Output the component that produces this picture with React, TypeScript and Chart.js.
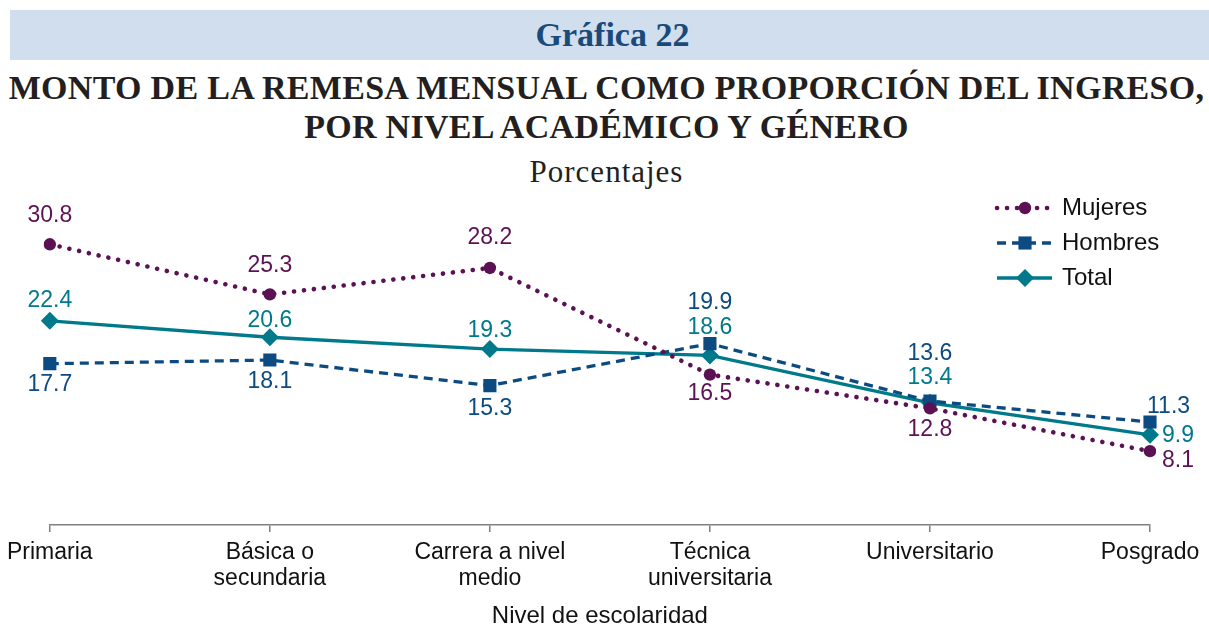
import React, { useEffect, useRef } from "react";
import { Chart, registerables } from "chart.js";

Chart.register(...registerables);

const categories: (string | string[])[] = [
  "Primaria",
  ["Básica o", "secundaria"],
  ["Carrera a nivel", "medio"],
  ["Técnica", "universitaria"],
  "Universitario",
  "Posgrado",
];
const mujeres = [30.8, 25.3, 28.2, 16.5, 12.8, 8.1];
const hombres = [17.7, 18.1, 15.3, 19.9, 13.6, 11.3];
const total = [22.4, 20.6, 19.3, 18.6, 13.4, 9.9];
const seriesNames = ["Mujeres", "Hombres", "Total"];

const COL_M = "#5c1154";
const COL_H = "#0c4a82";
const COL_T = "#00798b";

// label offsets per dataset / point: [dx, dy, align]
const labelPos: [number, number, CanvasTextAlign][][] = [
  [[0, -29, "center"], [0, -29, "center"], [0, -30, "center"], [0, 19, "center"], [0, 21, "center"], [12, 9, "left"]],
  [[0, 21, "center"], [0, 22, "center"], [0, 23, "center"], [0, -41, "center"], [0, -47, "center"], [-3, -15, "left"]],
  [[0, -20, "center"], [0, -17, "center"], [0, -18, "center"], [0, -28, "center"], [0, -25, "center"], [12, 1, "left"]],
];

const SANS = "'Liberation Sans', Arial, sans-serif";

const labelsPlugin = {
  id: "valueLabels",
  afterDatasetsDraw(chart: any) {
    const ctx = chart.ctx;
    ctx.save();
    ctx.font = `23px ${SANS}`;
    ctx.textBaseline = "middle";
    chart.data.datasets.forEach((ds: any, di: number) => {
      const meta = chart.getDatasetMeta(di);
      meta.data.forEach((pt: any, i: number) => {
        const [dx, dy, align] = labelPos[di][i];
        ctx.fillStyle = ds.borderColor;
        ctx.textAlign = align;
        ctx.fillText(ds.data[i].toFixed(1), pt.x + dx, pt.y + dy);
      });
    });
    ctx.restore();
  },
};

const legendPlugin = {
  id: "customLegend",
  afterDraw(chart: any) {
    const ctx = chart.ctx;
    const rows = [208, 243, 278];
    const x0 = 997, x1 = 1052, xm = 1025;
    chart.data.datasets.forEach((ds: any, di: number) => {
      const y = rows[di];
      ctx.save();
      ctx.strokeStyle = ds.borderColor;
      ctx.lineWidth = ds.borderWidth;
      ctx.lineCap = ds.borderCapStyle || "butt";
      ctx.setLineDash(ds.borderDash || []);
      ctx.beginPath();
      ctx.moveTo(x0, y);
      ctx.lineTo(x1, y);
      ctx.stroke();
      ctx.setLineDash([]);
      ctx.fillStyle = ds.borderColor;
      ctx.beginPath();
      if (ds.pointStyle === "circle") {
        ctx.arc(xm, y, ds.pointRadius, 0, Math.PI * 2);
      } else if (ds.pointStyle === "rect") {
        const s = ds.pointRadius * Math.SQRT1_2;
        ctx.rect(xm - s, y - s, 2 * s, 2 * s);
      } else {
        const r = ds.pointRadius;
        ctx.moveTo(xm, y - r);
        ctx.lineTo(xm + r, y);
        ctx.lineTo(xm, y + r);
        ctx.lineTo(xm - r, y);
        ctx.closePath();
      }
      ctx.fill();
      ctx.fillStyle = "#111";
      ctx.font = `24px ${SANS}`;
      ctx.textBaseline = "middle";
      ctx.textAlign = "left";
      ctx.fillText(seriesNames[di], 1062, y);
      ctx.restore();
    });
  },
};

function ChartCanvas() {
  const ref = useRef<HTMLCanvasElement | null>(null);
  useEffect(() => {
    if (!ref.current) return;
    const chart = new Chart(ref.current, {
      type: "line",
      data: {
        labels: categories as any,
        datasets: [
          {
            label: seriesNames[0],
            data: mujeres,
            borderColor: COL_M,
            backgroundColor: COL_M,
            borderWidth: 4.6,
            borderDash: [0.1, 9.9],
            borderCapStyle: "round",
            pointStyle: "circle",
            pointRadius: 6.2,
            pointBorderWidth: 0,
            tension: 0,
          },
          {
            label: seriesNames[1],
            data: hombres,
            borderColor: COL_H,
            backgroundColor: COL_H,
            borderWidth: 3.3,
            borderDash: [9, 6],
            pointStyle: "rect",
            pointRadius: 9.3,
            pointBorderWidth: 0,
            tension: 0,
          },
          {
            label: seriesNames[2],
            data: total,
            borderColor: COL_T,
            backgroundColor: COL_T,
            borderWidth: 3.3,
            pointStyle: "rectRot",
            pointRadius: 9,
            pointBorderWidth: 0,
            tension: 0,
          },
        ],
      },
      options: {
        responsive: false,
        animation: false,
        layout: { padding: { left: 46, right: 59, top: 206, bottom: 0 } },
        plugins: { legend: { display: false }, tooltip: { enabled: false }, title: { display: false } },
        scales: {
          y: { display: false, min: 0, max: 35 },
          x: {
            offset: false,
            afterFit: (scale: any) => {
              scale.height = 106;
            },
            grid: {
              display: true,
              drawOnChartArea: false,
              drawTicks: true,
              tickLength: 7,
              color: "#808080",
              lineWidth: 1.5,
            },
            border: { display: true, color: "#808080", width: 1.5 },
            ticks: {
              autoSkip: false,
              maxRotation: 0,
              minRotation: 0,
              padding: 7,
              color: "#111",
              font: { family: SANS, size: 23, lineHeight: 1.15 },
            },
            title: {
              display: true,
              text: "Nivel de escolaridad",
              color: "#111",
              padding: { top: 0, bottom: 0 },
              font: { family: SANS, size: 24, lineHeight: 1.2 },
            },
          },
        },
      },
      plugins: [labelsPlugin, legendPlugin],
    } as any);
    return () => chart.destroy();
  }, []);
  return <canvas ref={ref} width={1209} height={631} style={{ position: "absolute", left: 0, top: 0 }} />;
}

const SERIF = "'Liberation Serif', 'Times New Roman', serif";

export default function App() {
  const center = (top: number, h: number): React.CSSProperties => ({
    position: "absolute",
    left: 0,
    width: 1209,
    top: top - h / 2,
    height: h,
    lineHeight: `${h}px`,
    textAlign: "center",
    whiteSpace: "nowrap",
  });
  return (
    <div style={{ position: "absolute", left: 0, top: 0, width: 1209, height: 631, background: "#fff", overflow: "hidden" }}>
      <div style={{ position: "absolute", left: 10, top: 10, width: 1199, height: 50, background: "#d0deee" }} />
      <div style={{ ...center(35, 40), fontFamily: SERIF, fontWeight: "bold", fontSize: 34, color: "#1a4a7a", left: 8 }}>
        Gráfica 22
      </div>
      <div style={{ ...center(88, 40), fontFamily: SERIF, fontWeight: "bold", fontSize: 34, letterSpacing: 0.3, color: "#231f20", left: 2 }}>
        MONTO DE LA REMESA MENSUAL COMO PROPORCIÓN DEL INGRESO,
      </div>
      <div style={{ ...center(127, 40), fontFamily: SERIF, fontWeight: "bold", fontSize: 34, letterSpacing: 0.3, color: "#231f20", left: 2 }}>
        POR NIVEL ACADÉMICO Y GÉNERO
      </div>
      <div style={{ ...center(172, 40), fontFamily: SERIF, fontSize: 31, letterSpacing: 1, color: "#231f20", left: 2 }}>
        Porcentajes
      </div>
      <ChartCanvas />
    </div>
  );
}
